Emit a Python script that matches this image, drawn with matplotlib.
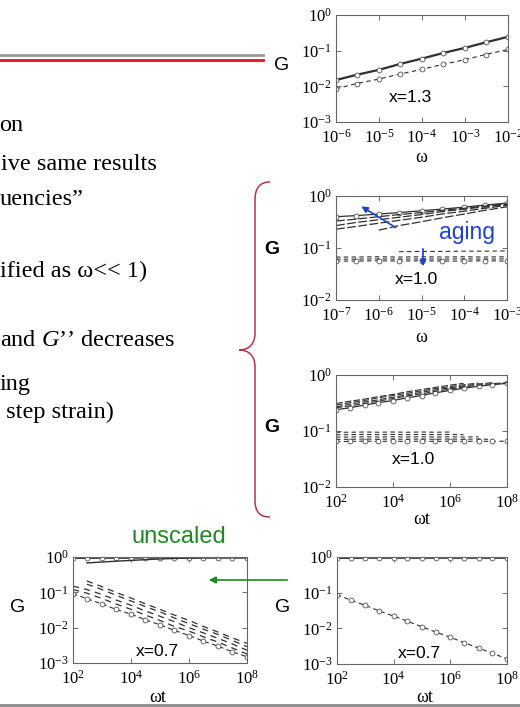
import numpy as np
import matplotlib
matplotlib.use('Agg')
import matplotlib.pyplot as plt
from matplotlib.path import Path
from matplotlib.patches import PathPatch

plt.rcParams['font.family'] = 'Liberation Serif'
plt.rcParams['mathtext.fontset'] = 'custom'
plt.rcParams['mathtext.rm'] = 'Liberation Serif'
plt.rcParams['mathtext.it'] = 'Liberation Serif:italic'

nan = np.nan

# --- x = 1.3, G vs omega
w13 = [1e-6, 3e-6, 1e-5, 3e-5, 1e-4, 3e-4, 1e-3, 3e-3, 1e-2]
gp13 = [0.015, 0.021, 0.029, 0.042, 0.060, 0.085, 0.12, 0.17, 0.245]
gpp13 = [0.0085, 0.012, 0.016, 0.022, 0.030, 0.041, 0.056, 0.078, 0.108]

# --- x = 1.0, G vs omega, different ages
w10 = [1e-7, 3e-7, 1e-6, 3e-6, 1e-5, 3e-5, 1e-4, 3e-4, 1e-3]
gp10_a = [0.40, 0.42, 0.45, 0.48, 0.52, 0.56, 0.61, 0.67, 0.73]
gp10_b = [0.33, 0.36, 0.40, 0.44, 0.48, 0.53, 0.58, 0.64, 0.71]
gp10_c = [0.27, 0.31, 0.35, 0.39, 0.44, 0.50, 0.56, 0.62, 0.69]
gp10_d = [0.23, 0.26, 0.30, 0.34, 0.39, 0.45, 0.51, 0.58, 0.66]
gp10_e = [nan, nan, 0.22, 0.27, 0.32, 0.38, 0.45, 0.53, 0.62]
gpp10_a = [0.056, 0.056, 0.057, 0.056, 0.057, 0.056, 0.056, 0.057, 0.056]
gpp10_b = [0.061, 0.061, 0.062, 0.061, 0.062, 0.061, 0.062, 0.061, 0.062]
gpp10_c = [0.067, 0.067, 0.068, 0.067, 0.068, 0.067, 0.068, 0.067, 0.068]
gpp10_d = [nan, nan, nan, 0.085, 0.086, 0.086, 0.087, 0.087, 0.088]

# --- x = 1.0, scaled by age, G vs omega*t
wt = [1e2, 3e2, 1e3, 3e3, 1e4, 3e4, 1e5, 3e5, 1e6, 3e6, 1e7, 3e7, 1e8]
gps_a = [0.24, 0.26, 0.29, 0.32, 0.35, 0.39, 0.43, 0.48, 0.53, 0.58, 0.63, 0.67, 0.71]
gps_b = [0.26, 0.28, 0.31, 0.34, 0.38, 0.42, 0.46, 0.51, 0.56, 0.61, 0.66, 0.70, 0.73]
gps_c = [0.27, 0.30, 0.33, 0.36, 0.40, 0.44, 0.49, 0.54, 0.59, 0.64, 0.69, 0.73, nan]
gps_d = [0.29, 0.32, 0.35, 0.39, 0.43, 0.47, 0.52, 0.57, 0.62, 0.67, 0.72, nan, nan]
gps_e = [0.31, 0.34, 0.37, 0.41, 0.45, 0.50, 0.55, 0.60, 0.66, 0.71, nan, nan, nan]
gpps_a = [0.065, 0.065, 0.066, 0.065, 0.066, 0.065, 0.066, 0.065, 0.066, 0.065, 0.066, 0.065, 0.066]
gpps_b = [0.071, 0.071, 0.072, 0.071, 0.072, 0.071, 0.072, 0.071, 0.072, 0.071, 0.072, 0.071, nan]
gpps_c = [0.078, 0.078, 0.079, 0.078, 0.079, 0.078, 0.079, 0.078, 0.079, 0.078, 0.079, nan, nan]
gpps_d = [0.086, 0.086, 0.087, 0.086, 0.087, 0.086, 0.087, 0.086, 0.087, 0.086, nan, nan, nan]
gpps_e = [0.095, 0.095, 0.096, 0.095, 0.096, 0.095, 0.096, 0.095, 0.096, nan, nan, nan, nan]

# --- x = 0.7 unscaled
gpu_a = [0.92, 0.92, 0.93, 0.93, 0.93, 0.94, 0.94, 0.94, 0.94, 0.95, 0.95, 0.95, 0.95]
gpu_b = [nan, 0.68, 0.72, 0.76, 0.80, 0.84, 0.88, 0.91, 0.93, 0.94, 0.95, 0.95, 0.95]
gppu_a = [0.092, 0.066, 0.047, 0.033, 0.024, 0.017, 0.012, 0.0085, 0.006, 0.0042, 0.003, 0.0021, 0.0015]
gppu_b = [0.12, 0.095, 0.067, 0.047, 0.033, 0.023, 0.016, 0.011, 0.008, 0.0056, 0.0039, 0.0027, 0.0018]
gppu_c = [0.15, 0.12, 0.087, 0.061, 0.043, 0.030, 0.021, 0.015, 0.010, 0.0072, 0.005, 0.0035, 0.0023]
gppu_d = [nan, 0.17, 0.12, 0.083, 0.057, 0.040, 0.028, 0.019, 0.013, 0.0092, 0.0064, 0.0044, 0.0029]
gppu_e = [nan, 0.21, 0.145, 0.10, 0.069, 0.048, 0.033, 0.023, 0.016, 0.011, 0.0075, 0.0052, 0.0036]

# --- x = 0.7 scaled
gpsc = [0.92, 0.92, 0.93, 0.93, 0.93, 0.93, 0.93, 0.93, 0.93, 0.93, 0.93, 0.93, 0.93]
gppsc = [0.088, 0.062, 0.044, 0.031, 0.022, 0.016, 0.011, 0.0079, 0.0056, 0.004, 0.0028, 0.002, 0.0014]

slide_text = ["on", "ive same results", "uencies\u201d", "ified as \u03c9<< 1)",
              "and $G$\u2019\u2019 decreases", "ing", " step strain)"]
slide_x = [-1, 1, 0, 0, 0, 0, 0]
slide_base = [131, 170, 205, 277, 346, 390, 418]

W, H = 520, 707
fig = plt.figure(figsize=(W / 100, H / 100), dpi=100)


def box(l, t, r, b):
    return [l / W, 1 - b / H, (r - l) / W, (b - t) / H]


LC = '#303030'
mk = dict(marker='o', ms=3.5, mfc='white', mec='#505050', mew=0.6)


def style(ax, xlim, ylim, xt, yt):
    ax.set_xscale('log')
    ax.set_yscale('log')
    ax.set_xlim(xlim)
    ax.set_ylim(ylim)
    ax.set_xticks(xt)
    ax.set_yticks(yt)
    ax.minorticks_off()
    ax.tick_params(direction='in', top=True, right=True, length=3.5, width=0.6,
                   color='#555555', labelsize=12)
    ax.tick_params(axis='x', pad=5)
    ax.tick_params(axis='y', pad=3)
    for s in ax.spines.values():
        s.set_color('#666666')
        s.set_linewidth(0.8)
    ax.set_facecolor('none')


ax1 = fig.add_axes(box(336, 15, 508, 122))
ax1.plot(w13, gp13, '-', color=LC, lw=1.6, **mk)
ax1.plot(w13, gpp13, '--', color=LC, lw=0.8, dashes=(4, 3), **mk)
style(ax1, (1e-6, 1e-2), (1e-3, 1), [1e-6, 1e-5, 1e-4, 1e-3, 1e-2], [1e-3, 1e-2, 1e-1, 1])

ax2 = fig.add_axes(box(336, 196, 507, 300))
ax2.plot(w10, gp10_a, '-', color=LC, lw=0.9, **mk)
for g in [gp10_b, gp10_c, gp10_d, gp10_e]:
    ax2.plot(w10, g, '-', color=LC, lw=0.9, dashes=(7, 2))
ax2.plot(w10, gpp10_a, '--', color=LC, lw=0.8, dashes=(4, 3), **mk)
for g in [gpp10_b, gpp10_c, gpp10_d]:
    ax2.plot(w10, g, '--', color=LC, lw=0.8, dashes=(4, 3))
style(ax2, (1e-7, 1e-3), (1e-2, 1), [1e-7, 1e-6, 1e-5, 1e-4, 1e-3], [1e-2, 1e-1, 1])

ax3 = fig.add_axes(box(336, 375, 507, 487))
ax3.plot(wt, gps_a, '-', color=LC, lw=0.9, **mk)
for g in [gps_b, gps_c, gps_d, gps_e]:
    ax3.plot(wt, g, '-', color=LC, lw=0.8, dashes=(6, 2))
ax3.plot(wt, gpps_a, '--', color=LC, lw=0.8, dashes=(4, 3), **mk)
for g in [gpps_b, gpps_c, gpps_d, gpps_e]:
    ax3.plot(wt, g, '--', color=LC, lw=0.8, dashes=(4, 3))
style(ax3, (1e2, 1e8), (1e-2, 1), [1e2, 1e4, 1e6, 1e8], [1e-2, 1e-1, 1])

ax4 = fig.add_axes(box(73, 557, 247, 663))
ax4.plot(wt, gpu_a, '-', color=LC, lw=1.0, **mk)
ax4.plot(wt, gpu_b, '-', color=LC, lw=1.0)
ax4.plot(wt, gppu_a, '--', color=LC, lw=0.8, dashes=(4, 3), **mk)
for g in [gppu_b, gppu_c, gppu_d, gppu_e]:
    ax4.plot(wt, g, '--', color=LC, lw=0.9, dashes=(5, 4))
style(ax4, (1e2, 1e8), (1e-3, 1), [1e2, 1e4, 1e6, 1e8], [1e-3, 1e-2, 1e-1, 1])

ax5 = fig.add_axes(box(337, 557, 507, 664))
ax5.plot(wt, gpsc, '-', color=LC, lw=1.0, **mk)
ax5.plot(wt, gppsc, '--', color=LC, lw=0.8, dashes=(4, 3), **mk)
style(ax5, (1e2, 1e8), (1e-3, 1), [1e2, 1e4, 1e6, 1e8], [1e-3, 1e-2, 1e-1, 1])

# overlay in pixel coordinates for slide text, rules, brace, arrows
ov = fig.add_axes([0, 0, 1, 1], zorder=10)
ov.set_xlim(0, W)
ov.set_ylim(H, 0)
ov.axis('off')
ov.patch.set_visible(False)

ov.plot([0, 263], [55, 55], color='#9a9a9a', lw=2)
ov.plot([0, 263], [60, 60], color='#e8101e', lw=2)
ov.plot([0, W], [705, 705], color='#8a8a8a', lw=2)

for s, x, y in zip(slide_text, slide_x, slide_base):
    ov.text(x, y, s, fontsize=17.5, va='baseline', ha='left', color='black')

verts = [(270, 182), (259, 182), (255, 189), (255, 200),
         (255, 333),
         (255, 344), (249, 350), (239, 350),
         (249, 350), (255, 356), (255, 367),
         (255, 500),
         (255, 511), (259, 517), (270, 517)]
codes = [Path.MOVETO, Path.CURVE4, Path.CURVE4, Path.CURVE4,
         Path.LINETO,
         Path.CURVE4, Path.CURVE4, Path.CURVE4,
         Path.CURVE4, Path.CURVE4, Path.CURVE4,
         Path.LINETO,
         Path.CURVE4, Path.CURVE4, Path.CURVE4]
ov.add_patch(PathPatch(Path(verts, codes), fill=False, edgecolor='#b8324f', lw=1.1))

sans = 'Liberation Sans'
ov.text(282, 65, 'G', family=sans, fontsize=14, ha='center', va='center')
ov.text(272, 250, 'G', family=sans, fontsize=14, ha='center', va='center', weight='bold')
ov.text(272, 428, 'G', family=sans, fontsize=14, ha='center', va='center', weight='bold')
ov.text(18, 608, 'G', family=sans, fontsize=14, ha='center', va='center')
ov.text(283, 607, 'G', family=sans, fontsize=14, ha='center', va='center')

ov.text(421, 157, '\u03c9', fontsize=13, ha='center', va='center')
ov.text(421, 338, '\u03c9', fontsize=13, ha='center', va='center')
ov.text(422, 520, '\u03c9t', fontsize=13, ha='center', va='center')
ov.text(158, 697, '\u03c9t', fontsize=13, ha='center', va='center')
ov.text(425, 697, '\u03c9t', fontsize=13, ha='center', va='center')

ov.text(410, 98, 'x=1.3', family=sans, fontsize=12.5, ha='center', va='center')
ov.text(416, 280, 'x=1.0', family=sans, fontsize=12.5, ha='center', va='center')
ov.text(413, 460, 'x=1.0', family=sans, fontsize=12.5, ha='center', va='center')
ov.text(157, 652, 'x=0.7', family=sans, fontsize=12.5, ha='center', va='center')
ov.text(419, 653, 'x=0.7', family=sans, fontsize=12.5, ha='center', va='center')

blue = '#2040d0'
ov.annotate('', xy=(359, 205), xytext=(398, 229),
            arrowprops=dict(arrowstyle='-|>', color=blue, lw=1.2, mutation_scale=9))
ov.annotate('', xy=(423, 269), xytext=(423, 246),
            arrowprops=dict(arrowstyle='-|>', color=blue, lw=1.2, mutation_scale=9))
ov.text(467, 233, 'aging', family=sans, fontsize=16.5, color=blue, ha='center', va='center')

green = '#1e8a1e'
ov.text(179, 537, 'unscaled', family=sans, fontsize=17, color=green, ha='center', va='center')
ov.annotate('', xy=(206, 580), xytext=(290, 580),
            arrowprops=dict(arrowstyle='-|>', color=green, lw=1.2, mutation_scale=10))

fig.savefig('out.png', dpi=100)
